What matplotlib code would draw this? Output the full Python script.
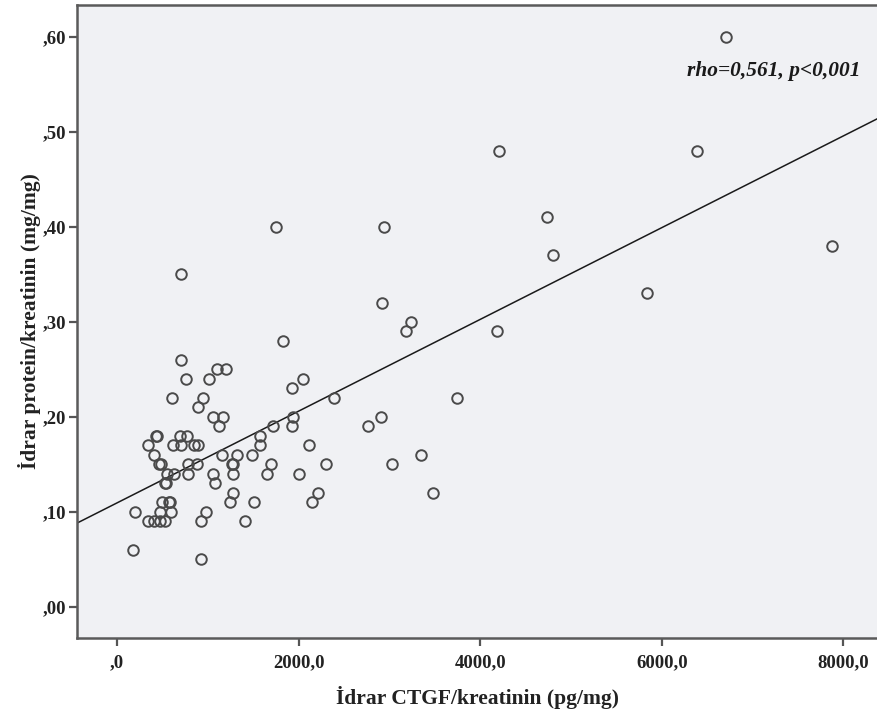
import matplotlib
matplotlib.use("Agg")
import matplotlib.pyplot as plt
import numpy as np

# Data: urinary CTGF/creatinine (pg/mg) vs urinary protein/creatinine (mg/mg)
ctgf = [705, 756, 1098, 1196, 1013, 609, 943, 888, 1053, 1163, 1123, 1714,
        1575, 1575, 437, 338, 694, 775, 613, 705, 851, 888, 411, 485, 547,
        628, 785, 877, 777, 530, 545, 1152, 1324, 1482, 1265, 1280, 1273,
        1053, 1079, 1692, 1648, 1273, 1244, 1509, 492, 570, 585, 198, 474,
        591, 345, 407, 474, 529, 980, 921, 1410, 180, 921,
        1833, 1930, 2044, 2390, 1941, 1923, 2118, 2767, 2913, 3031, 2302,
        2007, 2218, 2152,
        1748, 2944, 705, 2922, 3238, 3183,
        4211, 6391, 4739, 4798, 5833, 7878, 4181, 6707,
        3750, 3343, 3477, 426, 462]
protein = [0.26, 0.24, 0.25, 0.25, 0.24, 0.22, 0.22, 0.21, 0.20, 0.20, 0.19, 0.19,
           0.18, 0.17, 0.18, 0.17, 0.18, 0.18, 0.17, 0.17, 0.17, 0.17, 0.16, 0.15, 0.14,
           0.14, 0.15, 0.15, 0.14, 0.13, 0.13, 0.16, 0.16, 0.16, 0.15, 0.15, 0.14,
           0.14, 0.13, 0.15, 0.14, 0.12, 0.11, 0.11, 0.11, 0.11, 0.11, 0.10, 0.10,
           0.10, 0.09, 0.09, 0.09, 0.09, 0.10, 0.09, 0.09, 0.06, 0.05,
           0.28, 0.23, 0.24, 0.22, 0.20, 0.19, 0.17, 0.19, 0.20, 0.15, 0.15,
           0.14, 0.12, 0.11,
           0.40, 0.40, 0.35, 0.32, 0.30, 0.29,
           0.48, 0.48, 0.41, 0.37, 0.33, 0.38, 0.29, 0.60,
           0.22, 0.16, 0.12, 0.18, 0.15]

# Fit line
fit_intercept = 0.1095
fit_slope = 4.83e-5

x_ticks = [0, 2000, 4000, 6000, 8000]
x_tick_labels = [",0", "2000,0", "4000,0", "6000,0", "8000,0"]
y_ticks = [0.0, 0.1, 0.2, 0.3, 0.4, 0.5, 0.6]
y_tick_labels = [",00", ",10", ",20", ",30", ",40", ",50", ",60"]

xlabel = "İdrar CTGF/kreatinin (pg/mg)"
ylabel = "İdrar protein/kreatinin (mg/mg)"
annot = "rho=0,561, p<0,001"

serif = ["Liberation Serif", "DejaVu Serif"]

fig = plt.figure(figsize=(8.77, 7.09), dpi=100)
ax = fig.add_axes([77/877, 71/709, 1 - 77/877, (638 - 5)/709])
ax.set_facecolor("#f0f1f4")

xlim = (-440, 8370)
ax.set_xlim(*xlim)
ax.set_ylim(-0.0327, 0.6337)

xl = np.array(xlim)
ax.plot(xl, fit_intercept + fit_slope * xl, color="#1a1a1a", lw=1.1, zorder=2)

ax.plot(ctgf, protein, linestyle="none", marker="o", markersize=7.6,
        markerfacecolor="none", markeredgecolor="#4a4a4a", markeredgewidth=1.4,
        zorder=3)

ax.set_xticks(x_ticks)
ax.set_xticklabels(x_tick_labels)
ax.set_yticks(y_ticks)
ax.set_yticklabels(y_tick_labels)

for lab in ax.get_xticklabels() + ax.get_yticklabels():
    lab.set_fontfamily(serif)
    lab.set_fontweight("bold")
    lab.set_fontsize(13.5)
    lab.set_color("#222222")

ax.tick_params(axis="both", length=6, width=1.6, color="#555555")
ax.tick_params(axis="x", pad=6)
ax.tick_params(axis="y", pad=2)

for s in ["left", "bottom", "top"]:
    ax.spines[s].set_color("#5a5a5a")
    ax.spines[s].set_linewidth(1.8)
ax.spines["right"].set_visible(False)

ax.set_xlabel(xlabel, fontfamily=serif, fontweight="bold", fontsize=15.5,
              color="#222222", labelpad=10)
ax.set_ylabel(ylabel, fontfamily=serif, fontweight="bold", fontsize=15.5,
              color="#222222", labelpad=1)

ax.text(8183, 0.564, annot, fontfamily=serif, fontweight="bold", style="italic",
        fontsize=15.4, ha="right", va="center", color="#1a1a1a")

fig.savefig("out.png", dpi=100, facecolor="white")
